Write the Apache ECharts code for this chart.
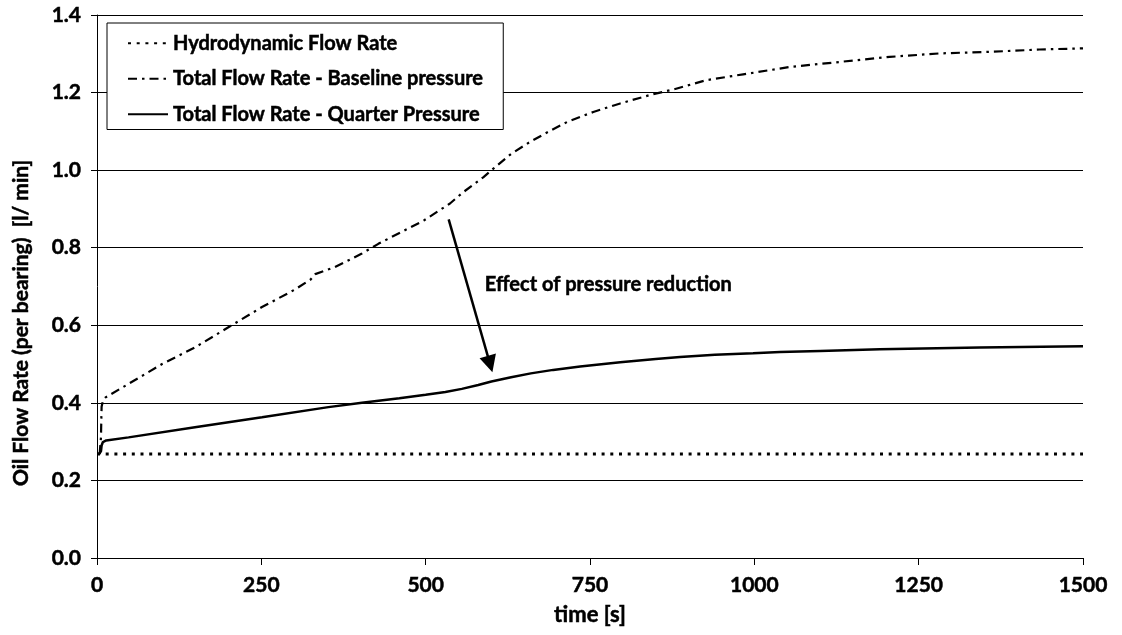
<!DOCTYPE html>
<html>
<head>
<meta charset="utf-8">
<script src="https://cdn.jsdelivr.net/npm/echarts@6/dist/echarts.min.js"></script>
<style>
html,body{margin:0;padding:0;background:#fff;}
#chart{width:1122px;height:635px;}
</style>
</head>
<body>
<div id="chart"></div>
<script>
// ---- data ----
const xTicks = [0, 250, 500, 750, 1000, 1250, 1500];
const yTicks = [0.0, 0.2, 0.4, 0.6, 0.8, 1.0, 1.2, 1.4];

const hydroTime = [0, 1500];
const hydroFlow = [0.268, 0.268];

const baseTime = [4, 6, 7, 9, 13, 48, 99, 149, 203, 251, 301, 325, 332, 362, 403, 428, 497, 537, 557, 588, 603, 630, 659, 690, 715, 755, 796, 846, 877, 927, 983, 1054, 1130, 1206, 1282, 1358, 1434, 1500];
const baseFlow = [0.268, 0.31, 0.39, 0.405, 0.414, 0.449, 0.50, 0.543, 0.598, 0.647, 0.692, 0.718, 0.732, 0.75, 0.785, 0.81, 0.870, 0.914, 0.943, 0.982, 1.004, 1.042, 1.073, 1.102, 1.124, 1.150, 1.172, 1.196, 1.208, 1.232, 1.247, 1.266, 1.279, 1.292, 1.301, 1.305, 1.311, 1.314];

const quarterTime = [3, 6, 7, 9, 14, 48, 149, 251, 352, 403, 460, 500, 530, 555, 580, 600, 630, 660, 694, 735, 796, 850, 887, 940, 998, 1039, 1100, 1191, 1343, 1500];
const quarterFlow = [0.268, 0.275, 0.29, 0.299, 0.303, 0.311, 0.337, 0.363, 0.389, 0.400, 0.412, 0.421, 0.428, 0.436, 0.446, 0.455, 0.466, 0.476, 0.485, 0.494, 0.505, 0.513, 0.518, 0.524, 0.528, 0.531, 0.534, 0.538, 0.543, 0.546];

const seriesNames = ['Hydrodynamic Flow Rate', 'Total Flow Rate - Baseline pressure', 'Total Flow Rate - Quarter Pressure'];
const annotationText = 'Effect of pressure reduction';
const arrowFrom = [535, 0.873];
const arrowTo = [598, 0.50];
const annotationAt = [590, 0.705];
const xName = 'time [s]';
const yName = 'Oil Flow Rate (per bearing)  [l/ min]';

const zip = (a, b) => a.map((v, i) => [v, b[i]]);
const FONT = 'Lato';
const heavy = { textBorderColor: '#000', textBorderWidth: 0.5 };

const chart = echarts.init(document.getElementById('chart'));
chart.setOption({
  animation: false,
  backgroundColor: '#fff',
  grid: { left: 97, right: 39, top: 15, bottom: 77, containLabel: false },
  legend: {
    orient: 'vertical',
    left: 107, top: 23,
    backgroundColor: '#fff',
    borderColor: '#000', borderWidth: 1,
    padding: [10, 20, 5, 20],
    itemWidth: 40, itemHeight: 14, itemGap: 15,
    itemStyle: { color: 'rgba(0,0,0,0)', borderColor: 'rgba(0,0,0,0)', borderWidth: 0, opacity: 0 },
    textStyle: Object.assign({ fontFamily: FONT, fontWeight: 'bold', fontSize: 20, color: '#000', lineHeight: 19 }, heavy),
    data: seriesNames
  },
  xAxis: {
    type: 'value', min: 0, max: 1500, interval: 250,
    name: xName, nameLocation: 'middle', nameGap: 46,
    nameTextStyle: Object.assign({ fontFamily: FONT, fontWeight: 'bold', fontSize: 22, color: '#000' }, heavy),
    axisLine: { show: true, onZero: false, lineStyle: { color: '#000', width: 1 } },
    axisTick: { show: true, inside: false, length: 7, lineStyle: { color: '#000' } },
    axisLabel: Object.assign({ fontFamily: FONT, fontWeight: 'bold', fontSize: 21, color: '#000', margin: 17,
      formatter: v => xTicks.includes(v) ? String(v) : '' }, heavy),
    splitLine: { show: false }
  },
  yAxis: {
    type: 'value', min: 0, max: 1.4, interval: 0.2,
    axisLine: { show: true, lineStyle: { color: '#000', width: 1 } },
    axisTick: { show: true, inside: false, length: 6, lineStyle: { color: '#000' } },
    axisLabel: Object.assign({ fontFamily: FONT, fontWeight: 'bold', fontSize: 21, color: '#000', margin: 16,
      formatter: v => { const t = yTicks.find(y => Math.abs(y - v) < 1e-6); return t === undefined ? '' : t.toFixed(1); } }, heavy),
    splitLine: { show: true, lineStyle: { color: '#000', width: 1 } }
  },
  graphic: [{
    type: 'text', x: 21, y: 323, rotation: Math.PI / 2,
    style: { text: yName, fontFamily: FONT, fontWeight: 'bold', fontSize: 21, fill: '#000', stroke: '#000', lineWidth: 0.5, align: 'center', verticalAlign: 'middle' }
  }],
  series: [
    {
      name: seriesNames[0], type: 'line', data: zip(hydroTime, hydroFlow),
      symbol: 'none', showSymbol: false, z: 3,
      lineStyle: { color: '#000', width: 3, type: [3, 5.7] },
      itemStyle: { color: '#000' }
    },
    {
      name: seriesNames[1], type: 'line', data: zip(baseTime, baseFlow),
      symbol: 'none', showSymbol: false, z: 4,
      lineStyle: { color: '#000', width: 2.2, type: [9, 5, 2.5, 5] },
      itemStyle: { color: '#000' }
    },
    {
      name: seriesNames[2], type: 'line', data: zip(quarterTime, quarterFlow),
      symbol: 'none', showSymbol: false, z: 5,
      lineStyle: { color: '#000', width: 2.5, type: 'solid' },
      itemStyle: { color: '#000' },
      markLine: {
        silent: true, symbol: ['none', 'triangle'], symbolSize: 17,
        label: { show: false },
        lineStyle: { color: '#000', width: 2.5, type: 'solid' },
        itemStyle: { color: '#000' },
        data: [[{ coord: arrowFrom }, { coord: arrowTo }]]
      },
      markPoint: {
        silent: true, symbol: 'circle', symbolSize: 0,
        data: [{ coord: annotationAt, value: annotationText }],
        label: Object.assign({ show: true, position: 'right', distance: 0, formatter: annotationText,
          fontFamily: FONT, fontWeight: 'bold', fontSize: 20, color: '#000' }, heavy)
      }
    }
  ]
});
</script>
</body>
</html>
